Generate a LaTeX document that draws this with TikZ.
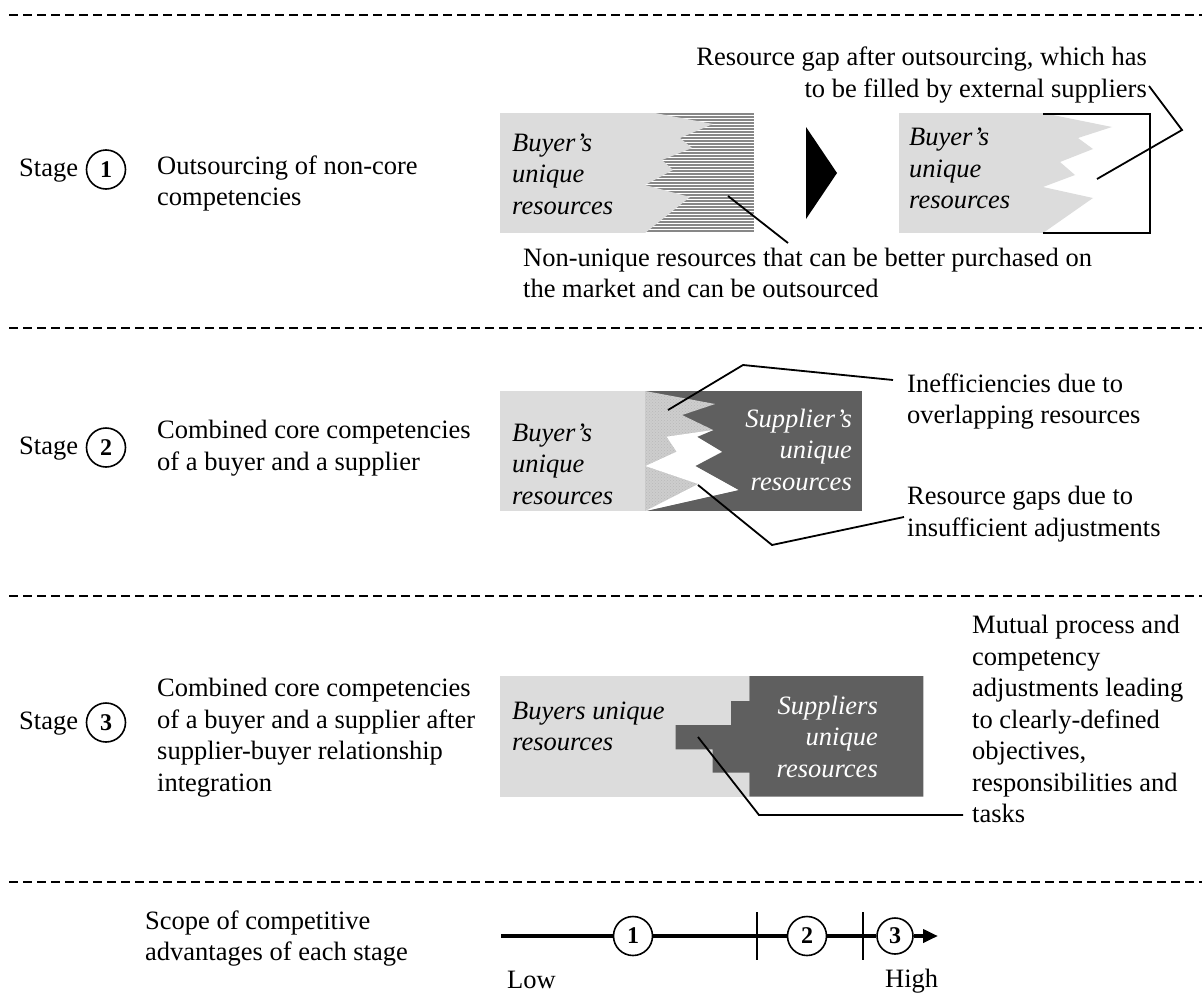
\documentclass[tikz,border=0pt]{standalone}
\usepackage{fontspec}
\setmainfont{Liberation Serif}
\usetikzlibrary{arrows.meta,patterns}

\definecolor{buyergrey}{RGB}{220,220,220}
\definecolor{suppliergrey}{RGB}{95,95,95}
\definecolor{overlapgrey}{RGB}{205,205,205}
\definecolor{stripegrey}{RGB}{135,135,135}

\newcommand\bodyfont{\fontsize{26.5}{31.5}\selectfont}

\begin{document}
\begin{tikzpicture}[x=1pt,y=-1pt,
  txt/.style={inner sep=0pt, font=\bodyfont, align=left},
  rtxt/.style={inner sep=0pt, font=\bodyfont, align=right},
  boxtxt/.style={inner sep=0pt, font=\bodyfont\itshape, align=left},
  rboxtxt/.style={inner sep=0pt, font=\bodyfont\itshape, align=right, text=white},
  stagenum/.style={circle, draw, line width=1.6pt, minimum size=39pt, inner sep=0pt, font=\fontsize{24}{28}\selectfont\bfseries, fill=white},
  divider/.style={dashed, dash pattern=on 8.5pt off 5.5pt, line width=2pt},
  leader/.style={line width=1.8pt},
  axis/.style={line width=4pt}]

\useasboundingbox (0,0) rectangle (1202,1001);

% ---------- section dividers ----------
\coordinate (d1a) at (9,15);   \coordinate (d1b) at (1202,15);
\coordinate (d2a) at (9,328);  \coordinate (d2b) at (1202,328);
\coordinate (d3a) at (9,596);  \coordinate (d3b) at (1202,596);
\coordinate (d4a) at (9,882);  \coordinate (d4b) at (1202,882);
\draw[divider] (d1a) -- (d1b);
\draw[divider] (d2a) -- (d2b);
\draw[divider] (d3a) -- (d3b);
\draw[divider] (d4a) -- (d4b);

% ---------- stage 1 ----------
\node[txt, anchor=base west] (s1lab) at (19,176.5) {Stage};
\node[stagenum] (s1num) at (106,169.5) {1};
\node[txt, anchor=north west] (s1desc) at (157,155.2) {Outsourcing of non-core\\competencies};

% buyer before outsourcing: unique part plus striped non-unique part
\fill[buyergrey] (500,113) rectangle (645,233);
\foreach \yy in {114,117,...,232} \draw[stripegrey, line width=1.4pt] (645,\yy) -- (754,\yy);
\fill[buyergrey] (645,113) -- (655,113) -- (713,124) -- (680,138) -- (692,148) -- (662,160)
  -- (673,170) -- (645,185) -- (690,197) -- (645,233) -- cycle;
\node[boxtxt, anchor=north west] (b1txt) at (512,133.4) {Buyer’s\\unique\\resources};

% transition arrow
\fill (806,127) -- (837,173) -- (806,219) -- cycle;

% buyer after outsourcing with the gap framed
\fill[buyergrey] (899,113) rectangle (1043,233);
\fill[buyergrey] (1043,113) -- (1112,127) -- (1078,138) -- (1093,149) -- (1060,162)
  -- (1075,175) -- (1043,187) -- (1093,198) -- (1043,233) -- cycle;
\draw[line width=2.5pt] (1043,114) -- (1150,114) -- (1150,233) -- (1043,233);
\node[boxtxt, anchor=north west] (b2txt) at (909,127.7) {Buyer’s\\unique\\resources};

\node[rtxt, anchor=north east] (gapnote) at (1147,46.7)
  {Resource gap after outsourcing, which has\\to be filled by external suppliers};
\node[txt, anchor=north west] (nunote) at (523,247.7)
  {Non-unique resources that can be better purchased on\\the market and can be outsourced};

\coordinate (gapA) at (1149,86);
\coordinate (gapB) at (1182,130);
\coordinate (gapC) at (1097,179);
\draw[leader] (gapA) -- (gapB) -- (gapC);
\coordinate (nuA) at (728,196);
\coordinate (nuB) at (788,243);
\draw[leader] (nuA) -- (nuB);

% ---------- stage 2 ----------
\node[txt, anchor=base west] (s2lab) at (19,454.5) {Stage};
\node[stagenum] (s2num) at (106,447.5) {2};
\node[txt, anchor=north west] (s2desc) at (157,420.2) {Combined core competencies\\of a buyer and a supplier};

\fill[buyergrey] (500,391) rectangle (645,511);
\fill[suppliergrey] (645,391) rectangle (862,511);
% overlapping resources
\fill[overlapgrey] (645,391) -- (715,404) -- (682,415) -- (713,430) -- (697,437) -- (722,452)
  -- (695,466) -- (738,490) -- (645,511) -- cycle;
\fill[pattern=crosshatch dots, pattern color=gray!55] (645,391) -- (715,404) -- (682,415) -- (713,430) -- (697,437) -- (722,452)
  -- (695,466) -- (738,490) -- (645,511) -- cycle;
% resource gaps
\fill[white] (713.3,430) -- (696.7,436.7) -- (721.7,451.7) -- (695,466) -- (738.3,490)
  -- (645.5,511) -- (698.3,484) -- (645.5,466) -- (676.7,451.7) -- (666.7,436.7) -- cycle;
\node[boxtxt, anchor=north west] (b3txt) at (512,423.4) {Buyer’s\\unique\\resources};
\node[rboxtxt, anchor=north east] (s3txt) at (852,408.7) {Supplier’s\\unique\\resources};

\node[txt, anchor=north west] (ineff) at (907,373.2) {Inefficiencies due to\\overlapping resources};
\node[txt, anchor=north west] (gaps) at (907,486.2) {Resource gaps due to\\insufficient adjustments};

\coordinate (ieA) at (668,410);
\coordinate (ieB) at (743,365);
\coordinate (ieC) at (893,380);
\draw[leader] (ieA) -- (ieB) -- (ieC);
\coordinate (rgA) at (698,485);
\coordinate (rgB) at (772,545);
\coordinate (rgC) at (904,517);
\draw[leader] (rgA) -- (rgB) -- (rgC);

% ---------- stage 3 ----------
\node[txt, anchor=base west] (s3lab) at (19,729.5) {Stage};
\node[stagenum] (s3num) at (106,722.5) {3};
\node[txt, anchor=north west] (s3desc) at (157,678.2)
  {Combined core competencies\\of a buyer and a supplier after\\supplier-buyer relationship\\integration};

\fill[buyergrey] (500,676) rectangle (749.3,796.7);
\fill[suppliergrey] (749.3,676) -- (923.3,676) -- (923.3,796.7) -- (749.3,796.7) -- (749.3,772.7)
  -- (712.7,772.7) -- (712.7,749.3) -- (675.7,749.3) -- (675.7,725) -- (731,725) -- (731,701)
  -- (749.3,701) -- cycle;
\node[boxtxt, anchor=north west] (b4txt) at (512,701.7) {Buyers unique\\resources};
\node[rboxtxt, anchor=north east] (s4txt) at (878,695.7) {Suppliers\\unique\\resources};

\node[txt, anchor=north west] (mutual) at (972,615.2)
  {Mutual process and\\competency\\adjustments leading\\to clearly-defined\\objectives,\\responsibilities and\\tasks};

\coordinate (muA) at (698,737);
\coordinate (muB) at (759,815);
\coordinate (muC) at (963,815);
\draw[leader] (muA) -- (muB) -- (muC);

% ---------- scope scale ----------
\node[txt, anchor=north west] (scope) at (145,910.2) {Scope of competitive\\advantages of each stage};

\coordinate (axS) at (501,936);
\coordinate (axE) at (938,936);
\coordinate (t1a) at (757,912); \coordinate (t1b) at (757,960);
\coordinate (t2a) at (863,912); \coordinate (t2b) at (863,960);
\node[stagenum, fill=none] (a1) at (633,936) {1};
\node[stagenum, fill=none] (a2) at (807,936) {2};
\node[stagenum, fill=none, minimum size=36pt] (a3) at (895,936) {3};
\draw[axis] (axS) -- (a1);
\draw[axis] (a1) -- (a2);
\draw[axis] (a2) -- (a3);
\draw[axis, -{Triangle[length=15pt,width=13pt]}] (a3) -- (axE);
\draw[line width=2pt] (t1a) -- (t1b);
\draw[line width=2pt] (t2a) -- (t2b);

\node[txt, anchor=base west] (low) at (507,988) {Low};
\node[txt, anchor=base west] (high) at (885,987) {High};

\end{tikzpicture}
\end{document}
